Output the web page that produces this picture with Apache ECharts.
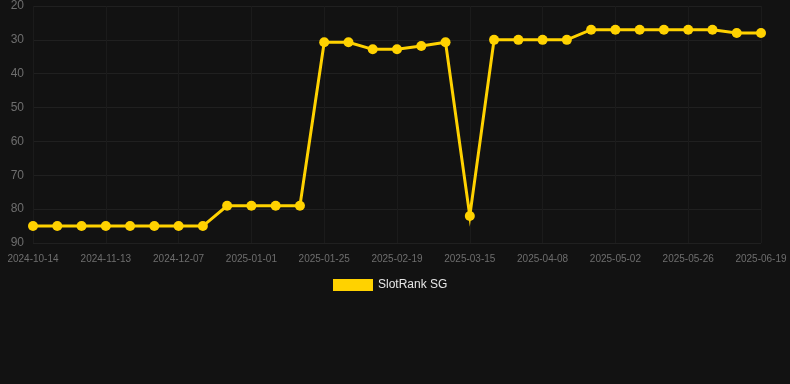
<!DOCTYPE html>
<html>
<head>
<meta charset="utf-8">
<script src="https://cdn.jsdelivr.net/npm/echarts@6/dist/echarts.min.js"></script>
<style>
  html, body { margin: 0; padding: 0; background: #121212; }
  #chart { width: 790px; height: 384px; }
</style>
</head>
<body>
<div id="chart"></div>
<script>
var dates = [
  '2024-10-14', '2024-10-24', '2024-11-03', '2024-11-13', '2024-11-21', '2024-11-29',
  '2024-12-07', '2024-12-15', '2024-12-23', '2025-01-01', '2025-01-09', '2025-01-17',
  '2025-01-25', '2025-02-02', '2025-02-10', '2025-02-19', '2025-02-27', '2025-03-07',
  '2025-03-15', '2025-03-23', '2025-03-31', '2025-04-08', '2025-04-16', '2025-04-24',
  '2025-05-02', '2025-05-10', '2025-05-18', '2025-05-26', '2025-06-03', '2025-06-11',
  '2025-06-19'
];
var rankSG = [
  85, 85, 85, 85, 85, 85, 85, 85,
  79, 79, 79, 79,
  30.7, 30.7, 32.8, 32.8, 31.8, 30.7,
  82,
  30, 30, 30, 30,
  27, 27, 27, 27, 27, 27,
  28, 28
];
var seriesName = 'SlotRank SG';

var chart = echarts.init(document.getElementById('chart'));

var option = {
  backgroundColor: '#121212',
  animation: false,
  grid: {
    left: 33,
    right: 29,
    top: 6,
    bottom: 141
  },
  legend: {
    data: [seriesName],
    top: 274,
    left: 328,
    icon: 'rect',
    itemWidth: 40,
    itemHeight: 12,
    itemGap: 10,
    textStyle: { color: '#e6e6e6', fontSize: 12, fontFamily: 'Arial, Liberation Sans, sans-serif' }
  },
  xAxis: {
    type: 'category',
    boundaryGap: false,
    data: dates,
    axisLine: { show: false },
    axisTick: { show: false },
    axisLabel: {
      color: '#6e6e6e',
      fontSize: 10,
      interval: 2,
      margin: 11,
      fontFamily: 'Arial, Liberation Sans, sans-serif'
    },
    splitLine: {
      show: true,
      interval: 2,
      lineStyle: { color: '#1b1b1b' }
    }
  },
  yAxis: {
    type: 'value',
    inverse: true,
    min: 20,
    max: 90,
    interval: 10,
    axisLine: { show: false },
    axisTick: { show: false },
    axisLabel: {
      color: '#6e6e6e',
      fontSize: 12,
      margin: 9,
      fontFamily: 'Arial, Liberation Sans, sans-serif'
    },
    splitLine: { lineStyle: { color: '#202020' } }
  },
  series: [
    {
      name: seriesName,
      type: 'line',
      data: rankSG,
      symbol: 'circle',
      symbolSize: 10,
      color: '#ffd200',
      lineStyle: { width: 3, color: '#ffd200', join: 'miter' },
      itemStyle: { color: '#ffd200' }
    }
  ]
};

chart.setOption(option);
</script>
</body>
</html>
